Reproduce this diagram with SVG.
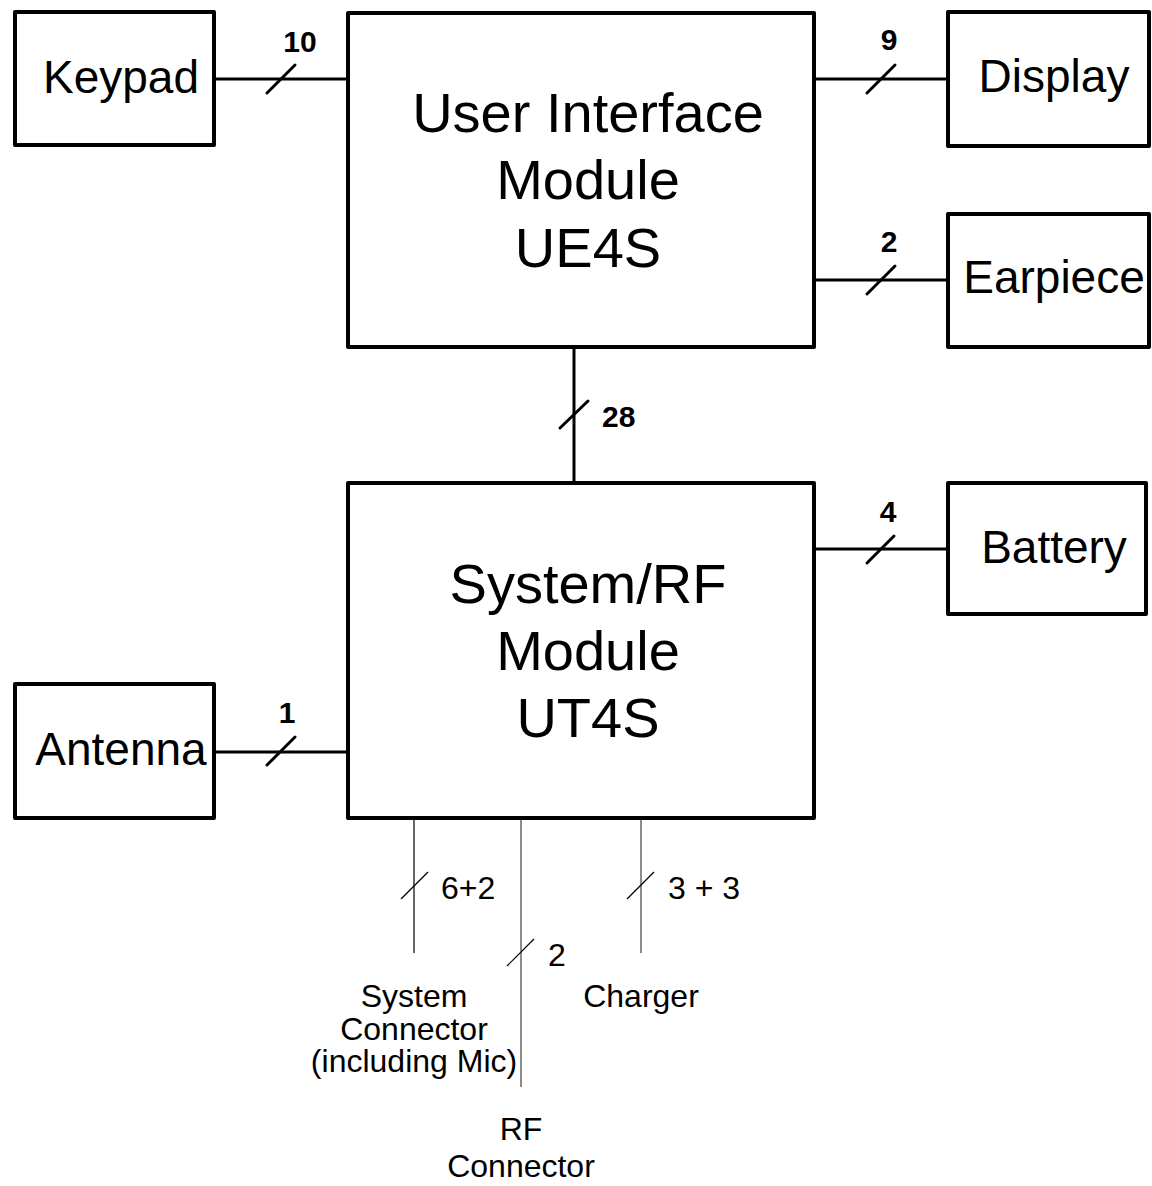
<svg xmlns="http://www.w3.org/2000/svg" width="1152" height="1186" viewBox="0 0 1152 1186">
<style>
.box{fill:#fff;stroke:#000;stroke-width:4;stroke-linejoin:round}
.big{font-family:"Liberation Sans",Arial,sans-serif;font-size:56px;text-anchor:middle;fill:#000}
.lbl{font-family:"Liberation Sans",Arial,sans-serif;font-size:46px;text-anchor:middle;fill:#000}
.num{font-family:"Liberation Sans",Arial,sans-serif;font-size:30px;font-weight:bold;text-anchor:middle;fill:#000}
.sm{font-family:"Liberation Sans",Arial,sans-serif;font-size:32px;fill:#000}
.smc{font-family:"Liberation Sans",Arial,sans-serif;font-size:32px;text-anchor:middle;fill:#000}
.w{stroke:#000;stroke-width:3;fill:none;stroke-linecap:round}
.t{stroke:#000;stroke-width:1.2;fill:none}
.g{stroke:#707070;stroke-width:1.6;fill:none}
</style>
<rect width="1152" height="1186" fill="#fff"/>
<g id="connectors">
  <line class="w" x1="214" y1="79" x2="348" y2="79"/>
  <line class="w" x1="267" y1="93" x2="295" y2="65"/>
  <text class="num" x="300" y="52">10</text>
  <line class="w" x1="814" y1="79" x2="948" y2="79"/>
  <line class="w" x1="867" y1="93" x2="895" y2="65"/>
  <text class="num" x="889" y="50">9</text>
  <line class="w" x1="814" y1="280" x2="948" y2="280"/>
  <line class="w" x1="867" y1="294" x2="895" y2="266"/>
  <text class="num" x="889" y="252">2</text>
  <line class="w" x1="574" y1="347" x2="574" y2="483"/>
  <line class="w" x1="560" y1="428" x2="588" y2="401"/>
  <text class="num" x="602" y="427" style="text-anchor:start">28</text>
  <line class="w" x1="814" y1="549" x2="948" y2="549"/>
  <line class="w" x1="867" y1="563" x2="894" y2="536"/>
  <text class="num" x="888" y="522">4</text>
  <line class="w" x1="214" y1="752" x2="348" y2="752"/>
  <line class="w" x1="267" y1="765" x2="295" y2="737"/>
  <text class="num" x="287" y="723">1</text>
  <line class="t" x1="414" y1="818" x2="414" y2="953"/>
  <line class="t" x1="401" y1="899" x2="428" y2="872"/>
  <text class="sm" x="441" y="899">6+2</text>
  <line class="g" x1="521" y1="818" x2="521" y2="1087"/>
  <line class="t" x1="507" y1="966" x2="534" y2="939"/>
  <text class="sm" x="548" y="966">2</text>
  <line class="g" x1="641" y1="818" x2="641" y2="953"/>
  <line class="t" x1="627" y1="899" x2="654" y2="872"/>
  <text class="sm" x="668" y="899">3 + 3</text>
</g>
<g id="keypad">
  <rect class="box" x="15" y="12" width="199" height="133"/>
  <text class="lbl" x="121" y="93">Keypad</text>
</g>
<g id="ui-module">
  <rect class="box" x="348" y="13" width="466" height="334"/>
  <text class="big" x="588" y="132">User Interface</text>
  <text class="big" x="588" y="199">Module</text>
  <text class="big" x="588" y="267">UE4S</text>
</g>
<g id="display">
  <rect class="box" x="948" y="12" width="201" height="134"/>
  <text class="lbl" x="1054" y="92">Display</text>
</g>
<g id="earpiece">
  <rect class="box" x="948" y="214" width="201" height="133"/>
  <text class="lbl" x="1054" y="293">Earpiece</text>
</g>
<g id="system-module">
  <rect class="box" x="348" y="483" width="466" height="335"/>
  <text class="big" x="588" y="603">System/RF</text>
  <text class="big" x="588" y="670">Module</text>
  <text class="big" x="588" y="737">UT4S</text>
</g>
<g id="battery">
  <rect class="box" x="948" y="483" width="198" height="131"/>
  <text class="lbl" x="1054" y="563">Battery</text>
</g>
<g id="antenna">
  <rect class="box" x="15" y="684" width="199" height="134"/>
  <text class="lbl" x="121" y="765">Antenna</text>
</g>
<g id="system-connector">
  <text class="smc" x="414" y="1007">System</text>
  <text class="smc" x="414" y="1040">Connector</text>
  <text class="smc" x="414" y="1072">(including Mic)</text>
</g>
<g id="charger">
  <text class="smc" x="641" y="1007">Charger</text>
</g>
<g id="rf-connector">
  <text class="smc" x="521" y="1140">RF</text>
  <text class="smc" x="521" y="1177">Connector</text>
</g>
</svg>
